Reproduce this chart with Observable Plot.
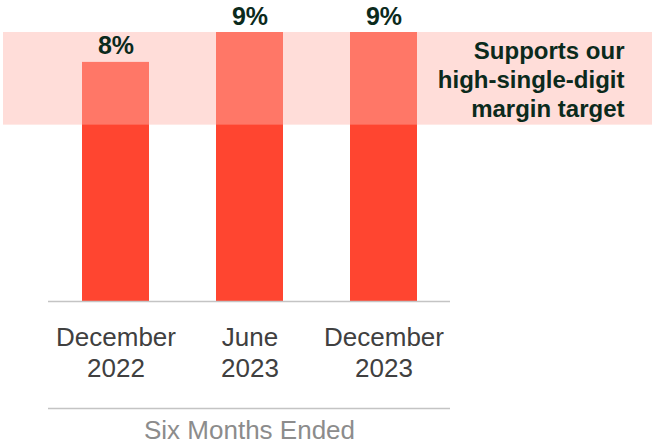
<!DOCTYPE html>
<html>
<head>
<meta charset="utf-8">
<script src="https://cdn.jsdelivr.net/npm/d3@7"></script>
<script src="https://cdn.jsdelivr.net/npm/@observablehq/plot@0.6"></script>
<style>
  html, body { margin: 0; padding: 0; background: #fff; }
</style>
</head>
<body>
<div id="chart"></div>
<script>
const periods = ["December\n2022", "June\n2023", "December\n2023"];
const margins = [8, 9, 9];
const targetLow = 5.9;
const targetHigh = 9;
const targetLabel = "Supports our\nhigh-single-digit\nmargin target";
const axisTitle = "Six Months Ended";

const data = periods.map((p, i) => ({period: p, value: margins[i]}));

const chart = Plot.plot({
  width: 652,
  height: 445,
  marginLeft: 48,
  marginRight: 202,
  marginTop: 32,
  marginBottom: 144,
  style: {fontFamily: "'Liberation Sans', Arial, sans-serif", background: "#fff"},
  x: {domain: periods, paddingInner: 0.5, paddingOuter: 0.25, axis: null},
  y: {domain: [0, 9], axis: null},
  marks: [
    Plot.barY(data, {x: "period", y: "value", fill: "#FF4530"}),
    Plot.rectY([{y1: targetLow, y2: targetHigh}], {
      y1: "y1", y2: "y2", fill: "rgb(255,179,170)", fillOpacity: 0.45,
      insetLeft: -45, insetRight: -202
    }),
    Plot.ruleY([0], {stroke: "#c4c4c4", strokeWidth: 1.5}),
    Plot.ruleY([0], {stroke: "#c4c4c4", strokeWidth: 1.5, dy: 107}),
    Plot.text(data, {
      x: "period", y: "value", text: d => d.value + "%", dy: -16,
      fontSize: 25, fontWeight: "bold", fill: "#0b2a1c"
    }),
    Plot.text(data, {
      x: "period", text: "period", frameAnchor: "bottom", dy: 50,
      lineAnchor: "middle", lineHeight: 1.2, fontSize: 26, fill: "#404040"
    }),
    Plot.text([axisTitle], {
      frameAnchor: "bottom", dy: 129, lineAnchor: "middle",
      fontSize: 26, fill: "#8c8c8c"
    }),
    Plot.text([targetLabel], {
      y: [(targetLow + targetHigh) / 2], frameAnchor: "right", textAnchor: "end",
      dx: 174, lineAnchor: "middle", lineHeight: 1.2,
      fontSize: 24, fontWeight: "bold", fill: "#0b2a1c"
    })
  ]
});
document.getElementById("chart").appendChild(chart);
</script>
</body>
</html>
